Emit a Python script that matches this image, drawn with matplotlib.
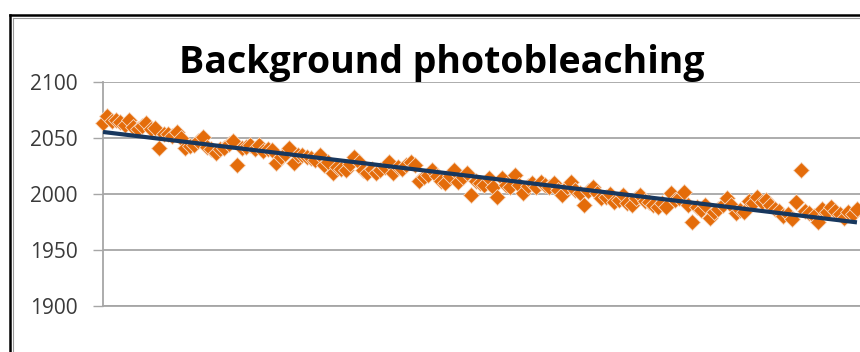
import numpy as np
import matplotlib
matplotlib.use("Agg")
import matplotlib.pyplot as plt
from matplotlib.lines import Line2D

# Background intensity per frame
intensity = [
    2063, 2070, 2065, 2066, 2064, 2062, 2066, 2060, 2058, 2061,
    2063, 2058, 2059, 2041, 2054, 2054, 2052, 2055, 2050, 2041,
    2043, 2044, 2047, 2051, 2042, 2040, 2037, 2040, 2041, 2045,
    2047, 2026, 2041, 2042, 2044, 2040, 2044, 2038, 2040, 2039,
    2028, 2033, 2036, 2041, 2028, 2035, 2035, 2033, 2032, 2030,
    2035, 2026, 2029, 2019, 2024, 2022, 2021, 2027, 2033, 2029,
    2021, 2019, 2022, 2019, 2021, 2024, 2029, 2019, 2024, 2022,
    2026, 2029, 2026, 2012, 2015, 2017, 2021, 2016, 2012, 2010,
    2016, 2021, 2011, 2015, 2019, 1999, 2012, 2010, 2008, 2014,
    2006, 1997, 2014, 2008, 2006, 2017, 2008, 2001, 2007, 2010,
    2006, 2011, 2008, 2006, 2010, 2004, 1999, 2006, 2011, 2004,
    2001, 1990, 2003, 2006, 2001, 1996, 1997, 2000, 1993, 1995,
    1999, 1992, 1990, 1996, 1999, 1994, 1993, 1990, 1988, 1992,
    1988, 2001, 1995, 1996, 2002, 1990, 1975, 1988, 1986, 1990,
    1979, 1984, 1987, 1990, 1996, 1990, 1983, 1986, 1984, 1994,
    1992, 1997, 1993, 1995, 1990, 1987, 1985, 1980, 1982, 1978,
    1993, 2021, 1985, 1983, 1980, 1975, 1987, 1984, 1988, 1985,
    1982, 1979, 1984, 1982, 1987,
]
frames = np.arange(len(intensity))

y_ticks = [1900, 1950, 2000, 2050, 2100]
title = "Background photobleaching"

W, H = 860, 352
fig = plt.figure(figsize=(W / 100, H / 100), dpi=100)
fig.patch.set_facecolor("white")

ax = fig.add_axes([103 / W, 46 / H, (W - 103) / W, 224 / H])
ax.set_facecolor("white")

grid_c = "#a6a6a6"
ax.set_ylim(1900, 2100)
ax.set_xlim(0, 174.7)
ax.set_yticks(y_ticks)
ax.set_yticklabels([str(t) for t in y_ticks])
ax.set_xticks([])
ax.yaxis.grid(True, color=grid_c, lw=1.3)
ax.set_axisbelow(True)
for side in ("top", "right"):
    ax.spines[side].set_visible(False)
for side in ("left", "bottom"):
    ax.spines[side].set_color(grid_c)
    ax.spines[side].set_linewidth(1.3)
ax.tick_params(axis="y", direction="out", length=7.2, width=1.0,
               color=grid_c, pad=11, labelsize=15, labelcolor="#3a3a3a")
for lab in ax.get_yticklabels():
    lab.set_fontfamily("Open Sans")

ax.plot(frames, intensity, linestyle="none", marker="D", ms=7.8,
        mfc="#e46c0a", mec="#f7d9c2", mew=0.6, clip_on=False, zorder=3)

# Linear trend line over the frame range
slope, intercept = np.polyfit(frames, intensity, 1)
xs = np.array([frames[0], frames[-1]])
ax.plot(xs, slope * xs + intercept, color="#17375e", lw=3.0,
        solid_capstyle="butt", zorder=4)

fig.text(442 / W, 1 - 73 / H, title, ha="center", va="baseline",
         fontsize=27, fontweight="bold", family="Open Sans", color="black")

# Chart frame
fig.add_artist(Line2D([9.5 / W, 9.5 / W], [0, 1 - 14.5 / H],
                      color="black", lw=1.8, transform=fig.transFigure))
fig.add_artist(Line2D([9.5 / W, 1], [1 - 14.5 / H, 1 - 14.5 / H],
                      color="black", lw=1.8, transform=fig.transFigure))
fig.add_artist(Line2D([12.5 / W, 12.5 / W], [0, 1 - 17.5 / H],
                      color="#9a9a9a", lw=0.8, transform=fig.transFigure))
fig.add_artist(Line2D([12.5 / W, 1], [1 - 17.5 / H, 1 - 17.5 / H],
                      color="#9a9a9a", lw=0.8, transform=fig.transFigure))

fig.savefig("out.png", dpi=100)
